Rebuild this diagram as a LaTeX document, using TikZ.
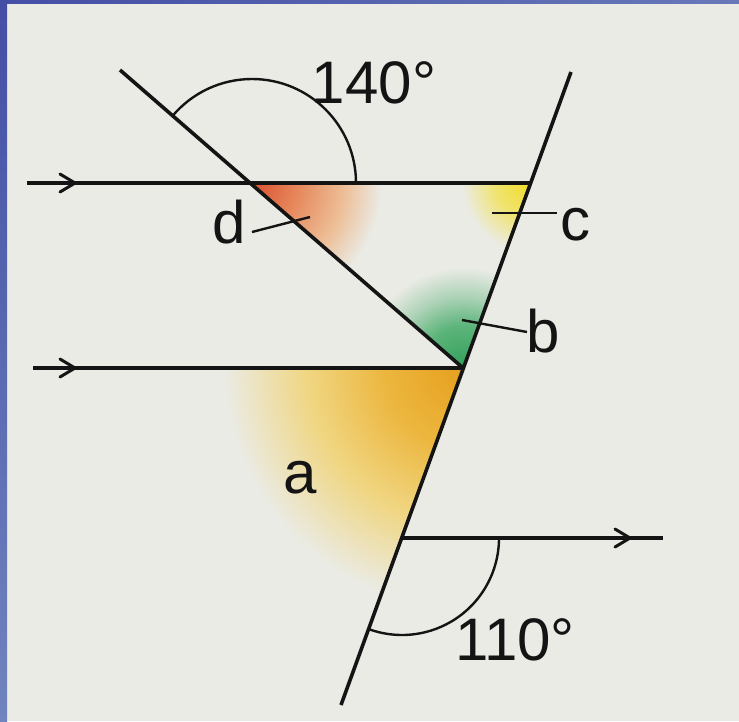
\documentclass[tikz,border=0pt]{standalone}
\usepackage{fontspec}
\setmainfont{Liberation Sans}
\definecolor{bg}{RGB}{234,235,229}
\definecolor{blueTop}{RGB}{68,78,165}
\definecolor{blueBot}{RGB}{112,132,190}
\definecolor{blueRight}{RGB}{105,120,185}
\definecolor{ink}{RGB}{20,20,20}
% angle a (orange)
\definecolor{aC0}{RGB}{230,160,30}
\definecolor{aC1}{RGB}{236,182,62}
\definecolor{aC2}{RGB}{240,214,130}
% angle d (red)
\definecolor{dC0}{RGB}{218,80,50}
\definecolor{dC1}{RGB}{230,132,88}
\definecolor{dC2}{RGB}{237,190,150}
% angle c (yellow)
\definecolor{cC0}{RGB}{240,220,40}
\definecolor{cC1}{RGB}{240,228,112}
% angle b (green)
\definecolor{bC0}{RGB}{50,160,90}
\definecolor{bC1}{RGB}{92,180,122}
\definecolor{bC2}{RGB}{172,210,182}
% path shadings: 25bp is the edge of the shaded circle
\pgfdeclareradialshading{shA}{\pgfpoint{0bp}{0bp}}{color(0bp)=(aC0); color(7.5bp)=(aC1); color(15bp)=(aC2); color(23bp)=(bg); color(50bp)=(bg)}
\pgfdeclareradialshading{shD}{\pgfpoint{0bp}{0bp}}{color(0bp)=(dC0); color(8bp)=(dC1); color(17bp)=(dC2); color(24bp)=(bg); color(50bp)=(bg)}
\pgfdeclareradialshading{shC}{\pgfpoint{0bp}{0bp}}{color(0bp)=(cC0); color(12bp)=(cC1); color(23bp)=(bg); color(50bp)=(bg)}
\pgfdeclareradialshading{shB}{\pgfpoint{0bp}{0bp}}{color(0bp)=(bC0); color(10bp)=(bC1); color(17bp)=(bC2); color(24bp)=(bg); color(50bp)=(bg)}
\begin{document}
\begin{tikzpicture}[x=1pt,y=-1pt,
  ln/.style={draw=ink, line width=3.6pt},
  arrowhd/.style={draw=ink, line width=3pt, line join=round, line cap=round},
  thinln/.style={draw=ink, line width=2.4pt},
  lbl/.style={inner sep=0pt, anchor=base, text=ink, font=\fontsize{60}{60}\selectfont}]
\useasboundingbox (0,0) rectangle (739,721);
\fill[bg] (0,0) rectangle (739,721);
\shade[top color=blueTop, bottom color=blueBot] (0,0) rectangle (7,721);
\shade[left color=blueTop, right color=blueRight] (0,0) rectangle (739,3);

% key points
\coordinate (V) at (252,183);
\coordinate (C) at (531,183);
\coordinate (A) at (463,368);
\coordinate (T) at (402,538);
\coordinate (P1) at (27,183);
\coordinate (P2) at (33,368);
\coordinate (P3) at (663,538);
\coordinate (Dtop) at (120,70);
\coordinate (Ttop) at (571,72);
\coordinate (Tbot) at (341,705);
\coordinate (H1) at (75,183);
\coordinate (H2) at (75,368);
\coordinate (H3) at (630,538);

% coloured angles
\begin{scope}
  \clip (V) -- (C) -- (A) -- cycle;
  \shade[shading=shD] (V) circle (135);
  \shade[shading=shC] (C) circle (75);
  \shade[shading=shB] (A) circle (105);
\end{scope}
\begin{scope}
  \clip (A) -- (0,368) -- (0,721) -- (335,721) -- cycle;
  \shade[shading=shA] (A) circle (260);
\end{scope}

% lines
\draw[ln] (P1) -- (C);
\draw[ln] (P2) -- (A);
\draw[ln] (T) -- (P3);
\draw[ln] (Dtop) -- (A);
\draw[ln] (Ttop) -- (Tbot);

% parallel marks
\draw[arrowhd] (H1) ++(-15,-9) -- (H1) -- ++(-15,9);
\draw[arrowhd] (H2) ++(-15,-9) -- (H2) -- ++(-15,9);
\draw[arrowhd] (H3) ++(-15,-9) -- (H3) -- ++(-15,9);

% angle arcs
\draw[thinln] (V) ++(104,0) arc[start angle=0, end angle=-140, radius=104];
\draw[thinln] (T) ++(97,0) arc[start angle=0, end angle=110, radius=97];

% leaders
\coordinate (d1) at (252,232); \coordinate (d2) at (310,217);
\coordinate (c1) at (492,213); \coordinate (c2) at (557,213);
\coordinate (b1) at (462,320); \coordinate (b2) at (527,332);
\draw[thinln] (d1) -- (d2);
\draw[thinln] (c1) -- (c2);
\draw[thinln] (b1) -- (b2);

% labels
\node[lbl] (l140) at (374,103) {140°};
\node[lbl] (l110) at (515,660) {110°};
\node[lbl] (la) at (300,493) {a};
\node[lbl] (lb) at (543,352) {b};
\node[lbl] (lc) at (575,240) {c};
\node[lbl] (ld) at (229,243) {d};
\end{tikzpicture}
\end{document}
